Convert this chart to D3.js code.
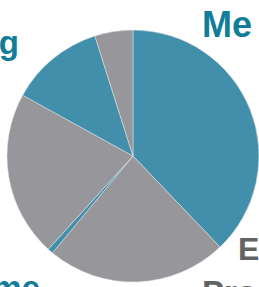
<!DOCTYPE html>
<html><head><meta charset="utf-8">
<script src="https://cdn.jsdelivr.net/npm/d3@7"></script>
<style>html,body{margin:0;padding:0;background:#fff;overflow:hidden}</style>
</head><body>
<svg id="c" width="259" height="287"></svg>
<script>
const categories = ["A","B","C","D","E","F"];
const values = [37.9, 23.2, 0.7, 21.3, 12.1, 4.9];
const sliceColors = ["#428fab","#97979b","#428fab","#97979b","#428fab","#97979b"];
const labels = ["Media","Marketing","Education","Programs","Income"];

const svg = d3.select("#c");
const cx = 133, cy = 156, r = 126;
const pie = d3.pie().sort(null).value(d => d)(values);
const arc = d3.arc().innerRadius(0).outerRadius(r);
svg.append("g").attr("transform", `translate(${cx},${cy})`)
  .selectAll("path").data(pie).join("path")
  .attr("d", arc)
  .attr("fill", (d,i) => sliceColors[i])
  .attr("stroke", "#e6e6e6").attr("stroke-width", 0.5);

const teal = "#117d99", gray = "#636363";
const font = "'Liberation Sans', Arial, sans-serif";
const lab = [
  {t: labels[0], x: 202, y: 37, a: "start", c: teal, s: 36},
  {t: labels[1], x: 19, y: 54, a: "end", c: teal, s: 33},
  {t: labels[2], x: 238, y: 260, a: "start", c: gray, s: 32},
  {t: labels[3], x: 202, y: 304, a: "start", c: gray, s: 33},
  {t: labels[4], x: 40, y: 299, a: "end", c: teal, s: 33}
];
const tx = svg.selectAll("text.l").data(lab).join("text").attr("class","l")
  .attr("x", d => d.x).attr("y", d => d.y)
  .attr("text-anchor", d => d.a)
  .attr("fill", d => d.c)
  .attr("font-family", font).attr("font-weight", "bold").attr("font-size", d => d.s);
tx.each(function(d, i) {
  const t = d3.select(this);
  if (i === 0) {
    t.append("tspan").text(d.t.slice(0, 2));
    t.append("tspan").attr("dx", 12).text(d.t.slice(2));
  } else {
    t.text(d.t);
  }
});
</script>
</body></html>
